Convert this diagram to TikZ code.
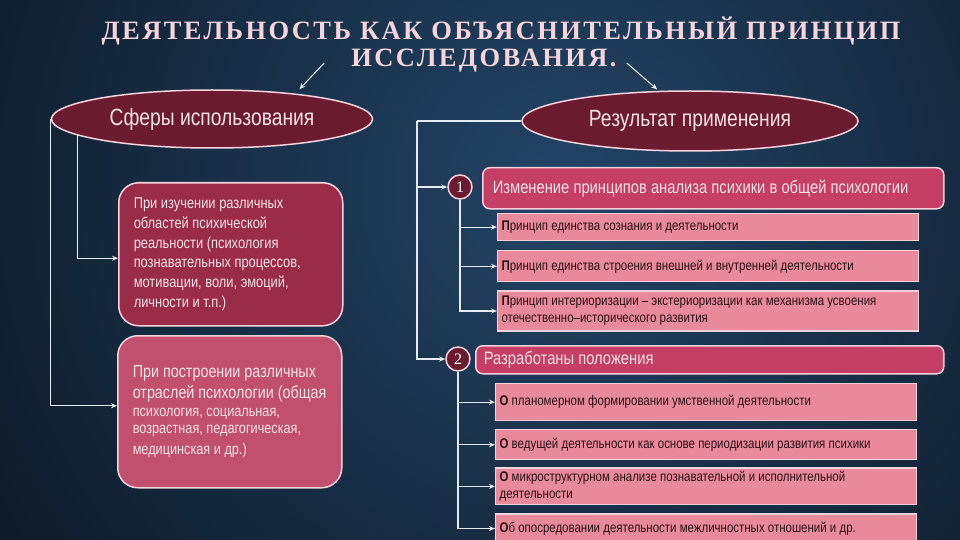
\documentclass[tikz,border=0pt]{standalone}
\usepackage{fontspec}
\setmainfont{Liberation Sans}
\newfontfamily\narrowfont{Liberation Sans}[FakeStretch=0.82]
\newfontfamily\titlefont{Liberation Serif}[LetterSpace=9]
\newfontfamily\numfont{Liberation Serif}
\usepackage{tikz}
\usetikzlibrary{arrows.meta, positioning, shapes}
\definecolor{bgin}{HTML}{234466}
\definecolor{bgout}{HTML}{060B12}
\definecolor{ovalred}{HTML}{6A1B2F}
\definecolor{spherered}{HTML}{9A2C4A}
\definecolor{branchrose}{HTML}{C24F6E}
\definecolor{headrose}{HTML}{C43E66}
\definecolor{itempink}{HTML}{E98A9C}
\definecolor{edgepink}{HTML}{F6D3DC}
\definecolor{lighttext}{HTML}{F5E1E6}
\definecolor{darktext}{HTML}{2A0F16}
\definecolor{titlepink}{HTML}{F5D5DD}
\definecolor{linewhite}{HTML}{E6ECF4}

\begin{document}
\begin{tikzpicture}[x=1pt, y=-1pt,
  oval/.style={ellipse, draw=edgepink, line width=1.5pt, fill=ovalred, text=lighttext, inner sep=0pt, font=\narrowfont\fontsize{23.5}{25}\selectfont},
  sphere/.style={rectangle, draw=edgepink, line width=1.5pt, rounded corners=20pt, anchor=north west, text=lighttext, align=flush left, inner xsep=15pt, text width=194pt},
  headbox/.style={rectangle, draw=edgepink, line width=1.5pt, rounded corners=7pt, fill=headrose, anchor=north west, text=lighttext, align=flush left, font=\narrowfont\fontsize{18}{20}\selectfont},
  itembox/.style={rectangle, draw=edgepink, line width=1.2pt, fill=itempink, text=darktext, text width=413pt, inner xsep=4pt, align=flush left, font=\narrowfont\fontsize{14}{17}\selectfont},
  num/.style={circle, draw=edgepink, line width=1.5pt, fill=ovalred, text=white, minimum size=24pt, inner sep=0pt, font=\numfont\fontsize{16}{16}\selectfont},
  titletext/.style={text=titlepink, inner sep=0pt, anchor=base, font=\titlefont\bfseries\fontsize{26.5}{28}\selectfont},
  arrow/.style={-{Stealth[length=6pt,width=5pt]}, line width=1.1pt, draw=linewhite}]

% background
\useasboundingbox (0,0) rectangle (960,540);
\begin{scope}
  \clip (0,0) rectangle (960,540);
  \shade[inner color=bgin, outer color=bgout] (560,190) circle (900);
\end{scope}

% title
\node[titletext] (title1) at (501,40) {ДЕЯТЕЛЬНОСТЬ КАК ОБЪЯСНИТЕЛЬНЫЙ ПРИНЦИП};
\node[titletext] (title2) at (484,67) {ИССЛЕДОВАНИЯ.};

% two ovals
\node[oval, minimum width=321pt, minimum height=58pt] (sfery) at (212,119) {Сферы использования};
\node[oval, minimum width=336pt, minimum height=60pt] (rez) at (690,121) {Результат применения};
\draw[arrow, shorten >=6pt] ([xshift=-27pt,yshift=-2pt]title2.west) -- (sfery.17);
\draw[arrow, shorten >=2pt] ([xshift=10pt,yshift=-2pt]title2.east) -- (rez.136);

% left: spheres
\node[sphere, fill=spherered, minimum height=143pt, font=\narrowfont\fontsize{15.7}{19.7}\selectfont] (izuch) at (118,182)
  {При изучении различных\\областей психической\\реальности (психология\\познавательных процессов,\\мотивации, воли, эмоций,\\личности и т.п.)};
\node[sphere, fill=branchrose, minimum height=152pt, font=\narrowfont\fontsize{17.5}{21}\selectfont] (postr) at (117,335)
  {При построении различных\\отраслей психологии (общая\par
   \fontsize{15.5}{17.5}\selectfont психология, социальная,\\возрастная, педагогическая,\\медицинская и др.)};
\draw[arrow] (sfery.187) |- ([yshift=-4pt]izuch.west);
\draw[arrow] (sfery.west) |- ([yshift=6pt]postr.west);

% right: results
\coordinate (rtop) at (417,121);
\node[num] (c1) at (460,187) {1};
\node[num] (c2) at (458,359) {2};
\draw[linewhite, line width=1.1pt] (rez.west) -- (rtop);
\draw[arrow] (rtop) |- (c1.west);
\draw[arrow] (rtop) |- (c2.west);

\node[headbox, text width=441pt, minimum height=41pt, inner xsep=10pt] (izm) at (482,167)
  {Изменение принципов анализа психики в общей психологии};
\node[itembox, minimum height=27pt, anchor=north west] (p1) at (497,213)
  {\textbf{П}ринцип единства сознания и деятельности};
\node[itembox, minimum height=31pt, below=9pt of p1] (p2)
  {\textbf{П}ринцип единства строения внешней и внутренней деятельности};
\node[itembox, minimum height=40pt, below=8pt of p2] (p3)
  {\textbf{П}ринцип интериоризации – экстериоризации как механизма усвоения\\отечественно–исторического развития};
\foreach \itm in {p1,p2,p3}
  \draw[arrow] (c1.south) |- (\itm.west);

\node[headbox, text width=452pt, minimum height=28pt, inner xsep=8pt] (razr) at (475,345)
  {Разработаны положения};
\node[itembox, minimum height=37pt, anchor=north west] (o1) at (495,383)
  {\textbf{О} планомерном формировании умственной деятельности};
\node[itembox, minimum height=30pt, below=8pt of o1] (o2)
  {\textbf{О} ведущей деятельности как основе периодизации развития психики};
\node[itembox, minimum height=33pt, below=7pt of o2] (o3)
  {\textbf{О} микроструктурном анализе познавательной и исполнительной\\деятельности};
\node[itembox, minimum height=29pt, below=8pt of o3] (o4)
  {\textbf{О}б опосредовании деятельности межличностных отношений и др.};
\foreach \itm in {o1,o2,o3,o4}
  \draw[arrow] (c2.south) |- (\itm.west);
\end{tikzpicture}
\end{document}
